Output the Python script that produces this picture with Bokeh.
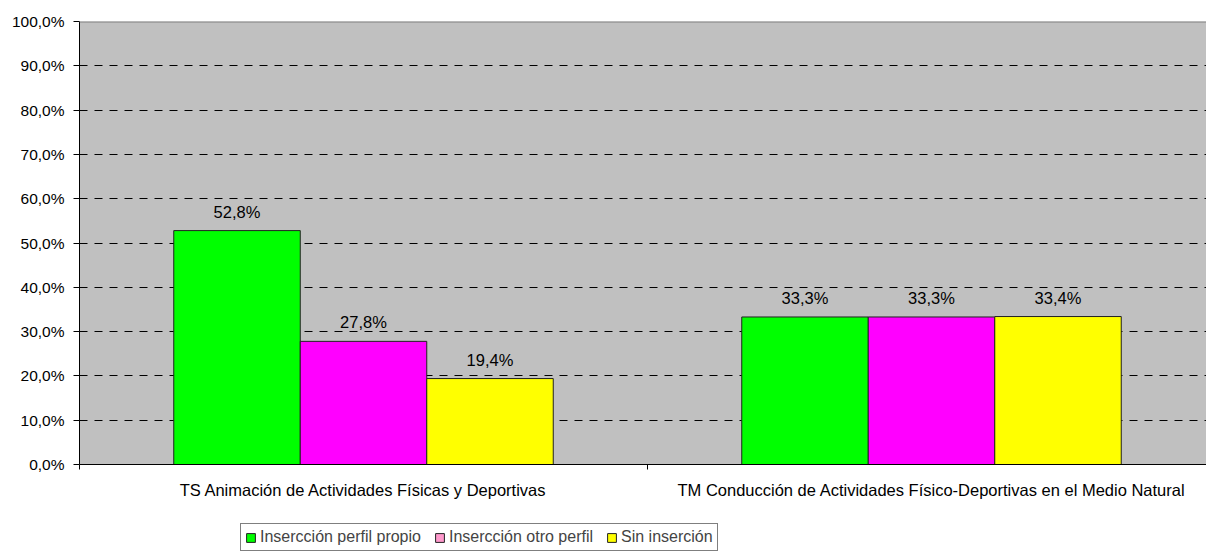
from bokeh.plotting import figure
from bokeh.models import (ColumnDataSource, FixedTicker, Legend, LegendItem, Span,
                          Range1d, BoxAnnotation)
from bokeh.core.properties import value
from bokeh.embed import file_html
from bokeh.resources import INLINE

categories = [
    "TS Animación de Actividades Físicas y Deportivas",
    "TM Conducción de Actividades Físico-Deportivas en el Medio Natural",
]
series = ["Insercción perfil propio", "Insercción otro perfil", "Sin inserción"]
propio = [52.8, 33.3]
otro = [27.8, 33.3]
sin_insercion = [19.4, 33.4]
y_ticks = [0, 10, 20, 30, 40, 50, 60, 70, 80, 90, 100]

values = [propio, otro, sin_insercion]
bar_colors = ["#00FF00", "#FF00FF", "#FFFF00"]
legend_colors = ["#00FF00", "#FF99CC", "#FFFF00"]

FONT = "Liberation Sans"
W, H = 1206, 551
FL, FT, FB = 79, 21, 464          # frame left / top, zero line in px
CAT_PX = 568                      # pixel width of one category
cat_pos = [1, 3]                  # category centres (each category spans 2 units)
cat_edges = [0, 2, 4]
bar_w = 2 * 126.5 / CAT_PX        # width of one bar in data units
offsets = [-bar_w, 0.0, bar_w]
px_per_unit = (FB - FT) / 100.0
y_start = -(H - FB) / px_per_unit


def fmt(v):
    return f"{v:.1f}".replace(".", ",") + "%"


p = figure(
    width=W, height=H,
    x_range=Range1d(0, 2 * (W - FL) / CAT_PX), y_range=Range1d(y_start, 100),
    output_backend="svg", toolbar_location=None, x_axis_location=None,
    min_border_left=FL, min_border_right=0, min_border_top=FT, min_border_bottom=0,
    background_fill_color="white", border_fill_color="white",
)
p.outline_line_color = None

# grey plot area (0..100), drawn beneath the grid
plot_area = BoxAnnotation(bottom=0, top=100, fill_color="#C0C0C0", fill_alpha=1.0,
                          line_color=None, level="underlay")
p.center = [plot_area] + list(p.center)

# grid
p.xgrid.visible = False
p.ygrid.ticker = FixedTicker(ticks=y_ticks[1:-1])
p.ygrid.grid_line_color = "black"
p.ygrid.grid_line_dash = "8 7"
p.ygrid.grid_line_width = 1

p.add_layout(Span(location=100, dimension="width", line_color="#808080", line_width=2))

# bars
for i, (vals, col) in enumerate(zip(values, bar_colors)):
    xs = [c + offsets[i] for c in cat_pos]
    src = ColumnDataSource(dict(x=xs, top=vals, lab=[fmt(v) for v in vals]))
    p.vbar(x="x", top="top", width=bar_w, source=src, fill_color=col,
           line_color="#222222", line_width=1)
    p.text(x="x", y="top", text="lab", source=src, text_align="center",
           text_baseline="bottom", y_offset=-10, text_font=value(FONT),
           text_font_size="16.5px", text_color="black")

# x axis line
p.add_layout(Span(location=0, dimension="width", line_color="black", line_width=1))

# category boundary ticks and category labels
tick_len = 5 / px_per_unit
p.segment(x0=cat_edges, x1=cat_edges, y0=[0] * 3, y1=[-tick_len] * 3,
          line_color="black", line_width=1, level="overlay")
p.text(x=cat_pos, y=[0, 0], text=categories, text_align="center",
       text_baseline="middle", y_offset=25, text_font=value(FONT),
       text_font_size="16.5px", text_color="black", level="overlay")

# y axis
ya = p.yaxis[0]
ya.bounds = (0, 100)
ya.ticker = FixedTicker(ticks=y_ticks)
ya.major_label_overrides = {t: fmt(t) for t in y_ticks}
ya.major_label_text_font = FONT
ya.major_label_text_font_size = "15.5px"
ya.major_label_text_color = "black"
ya.axis_line_color = "black"
ya.major_tick_line_color = "black"
ya.major_tick_out = 6
ya.major_tick_in = 0
ya.minor_tick_line_color = None
ya.major_label_standoff = 9

# legend (swatch-only renderers with no visible data)
nan = float("nan")
items = []
for s, c in zip(series, legend_colors):
    r = p.vbar(x=[nan], top=[nan], width=0.1, fill_color=c, line_color="#222222")
    items.append(LegendItem(label=s, renderers=[r]))
legend = Legend(items=items, orientation="horizontal", location=(161, 0),
                label_text_font=FONT, label_text_font_size="16px",
                glyph_width=11, glyph_height=11, label_height=16,
                label_standoff=4, spacing=13, padding=4, margin=0,
                border_line_color="black", border_line_width=1,
                background_fill_color="white", background_fill_alpha=1.0)
p.add_layout(legend, "center")

open("out.html", "w").write(file_html(p, INLINE))
